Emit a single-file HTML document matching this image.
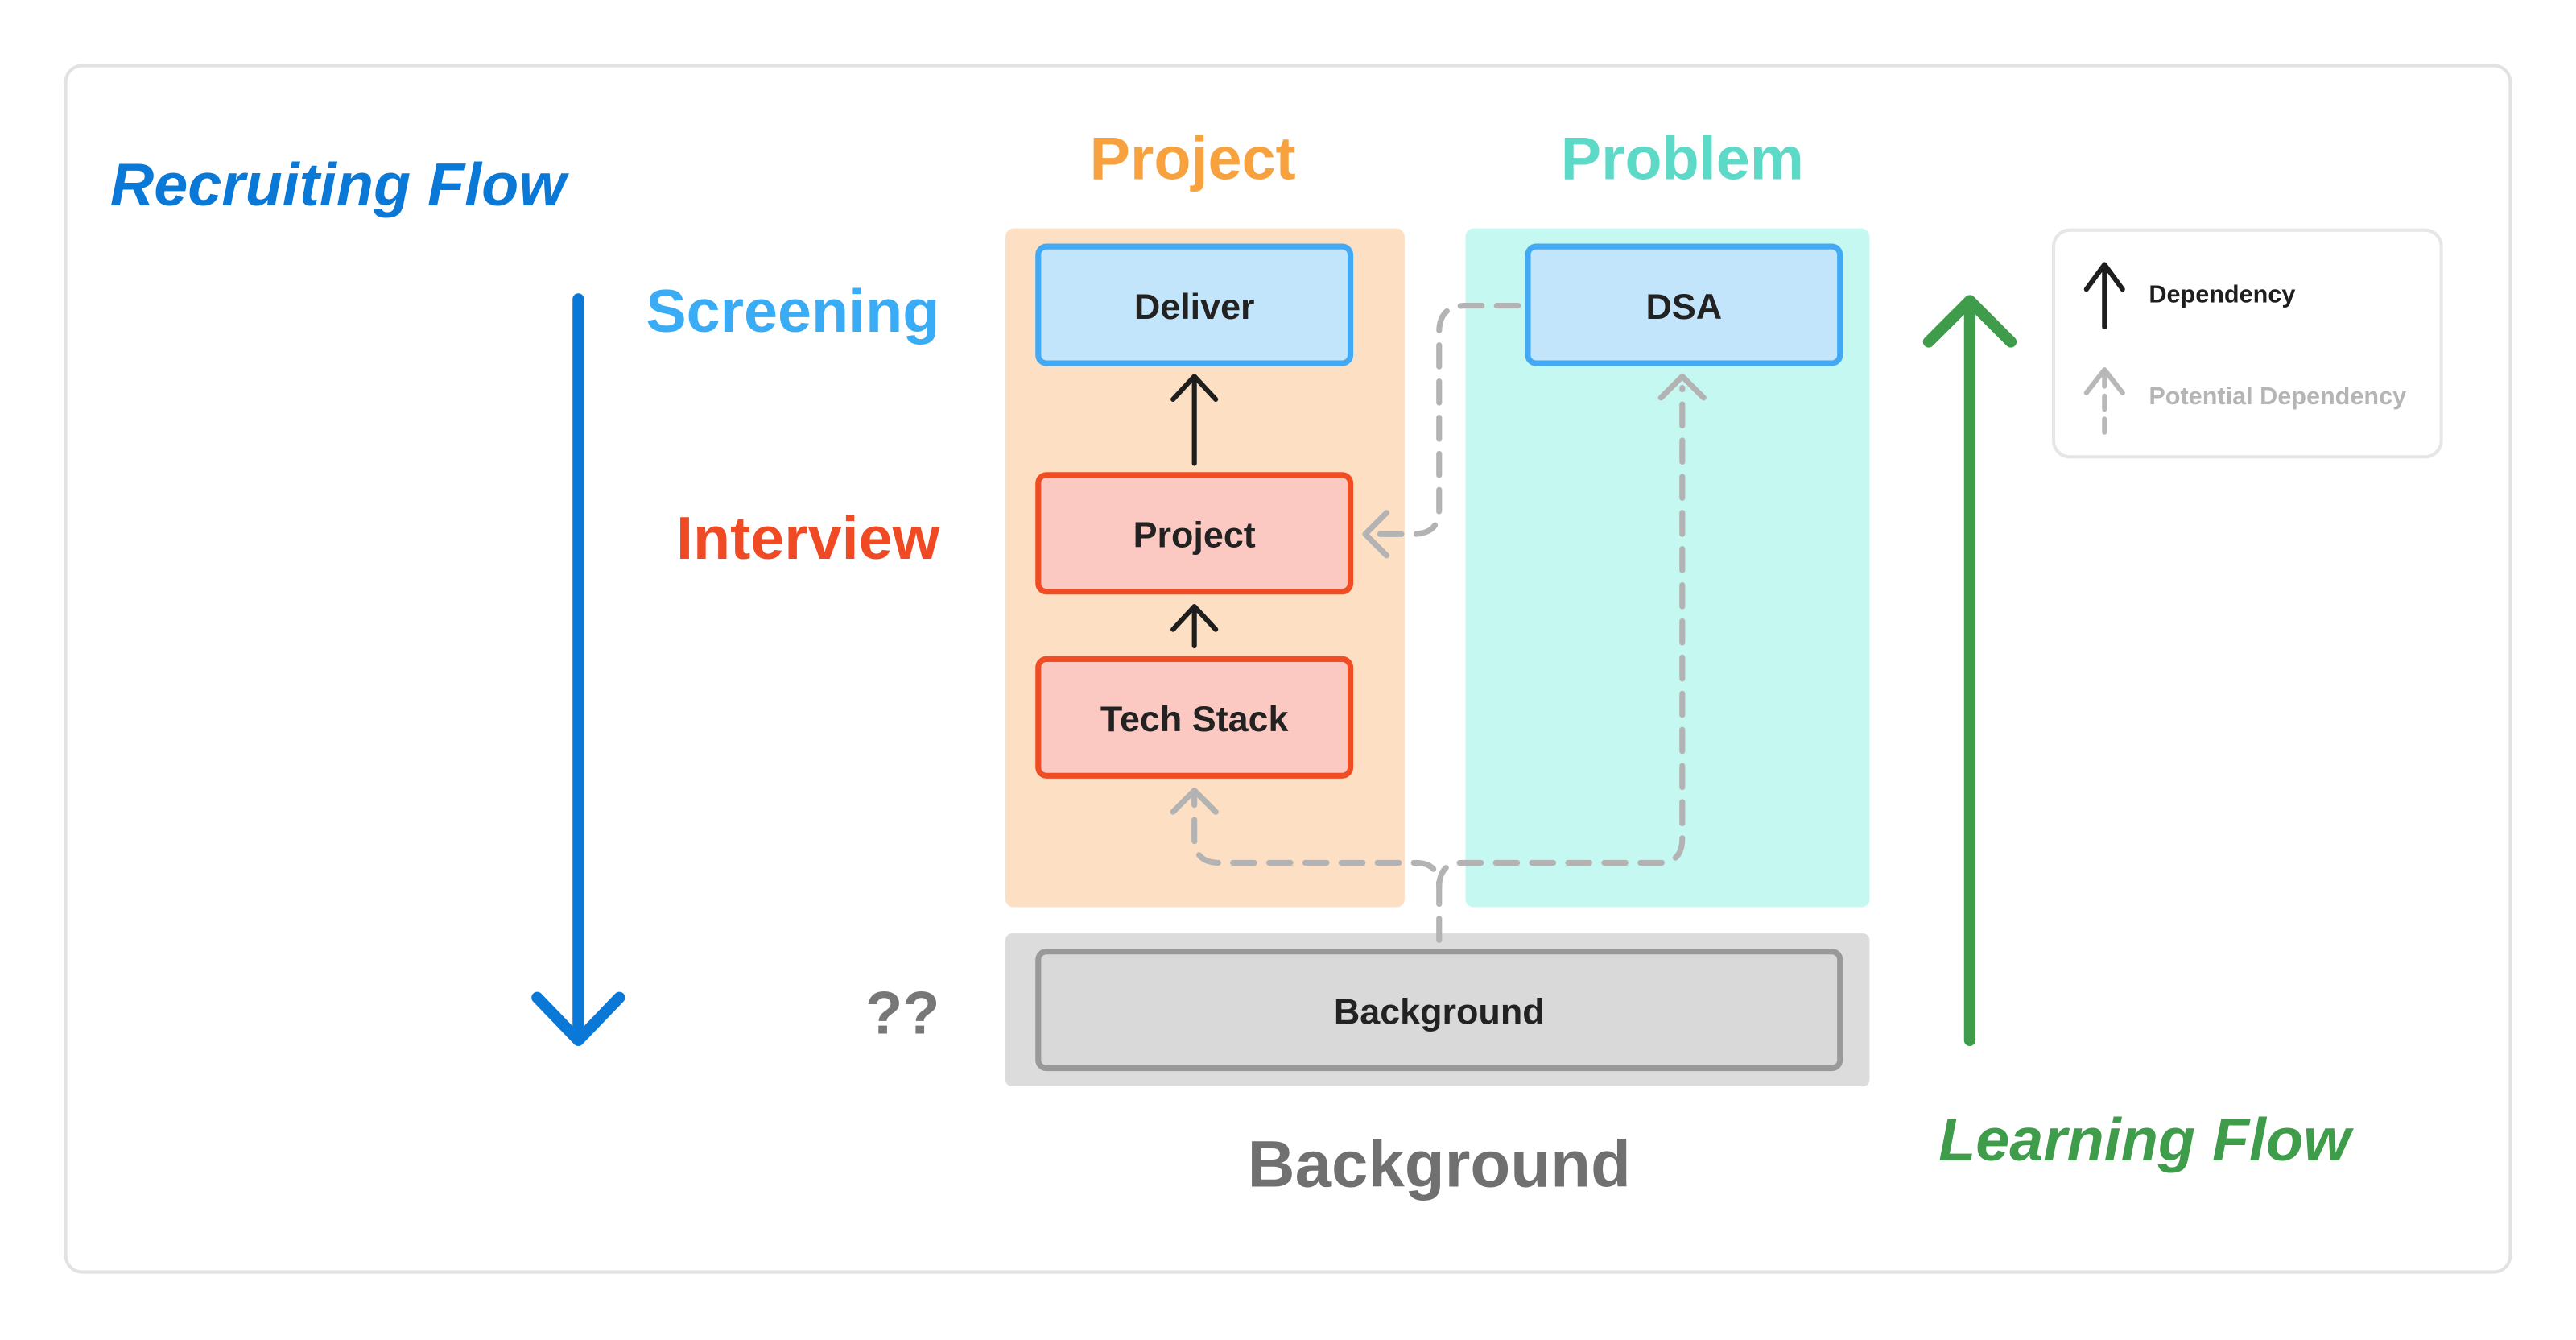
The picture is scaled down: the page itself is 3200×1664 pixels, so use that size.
<!DOCTYPE html>
<html><head><meta charset="utf-8"><style>
html,body{margin:0;padding:0;background:#fff;}
svg{display:block;}
text{font-family:"Liberation Sans",sans-serif;font-weight:bold;}
</style></head><body>
<svg width="3200" height="1664" viewBox="0 0 1568 815.36" xmlns="http://www.w3.org/2000/svg">
<rect x="40" y="40" width="1488" height="734" rx="10" fill="#fff" stroke="#e2e2e2" stroke-width="2"/>
<text x="67" y="125" font-size="37" font-style="italic" fill="#0a78d6">Recruiting Flow</text>
<g stroke="#0a78d6" stroke-width="7" stroke-linecap="round" stroke-linejoin="round" fill="none">
<line x1="352" y1="182" x2="352" y2="632"/><polyline points="327,607 352,633 377,607"/></g>
<text x="572" y="202" font-size="37" text-anchor="end" fill="#3aabf5">Screening</text>
<text x="572" y="340" font-size="37" text-anchor="end" fill="#f04a24">Interview</text>
<text x="572" y="629" font-size="37" text-anchor="end" fill="#777">??</text>
<text x="726" y="109" font-size="37" text-anchor="middle" fill="#f7a23e">Project</text>
<text x="1024" y="109" font-size="37" text-anchor="middle" fill="#5cd9c7">Problem</text>
<rect x="612" y="139" width="243" height="413" rx="5" fill="#fde0c4"/>
<rect x="892" y="139" width="246" height="413" rx="5" fill="#c6f8f2"/>
<rect x="612" y="568" width="526" height="93" rx="4" fill="#dcdcdc"/>
<g stroke-width="3.5" rx="5">
<rect x="632" y="150" width="190" height="71" rx="5" fill="#c3e5fc" stroke="#42aaf5"/>
<rect x="930" y="150" width="190" height="71" rx="5" fill="#c3e5fc" stroke="#42aaf5"/>
<rect x="632" y="289" width="190" height="71" rx="5" fill="#fcc9c2" stroke="#f04d24"/>
<rect x="632" y="401" width="190" height="71" rx="5" fill="#fcc9c2" stroke="#f04d24"/>
<rect x="632" y="579" width="488" height="71" rx="5" fill="#d9d9d9" stroke="#999"/>
</g>
<g font-size="22" fill="#222" text-anchor="middle">
<text x="727" y="194">Deliver</text>
<text x="1025" y="194">DSA</text>
<text x="727" y="333">Project</text>
<text x="727" y="445">Tech Stack</text>
<text x="876" y="623">Background</text>
</g>
<g stroke="#1e1e1e" stroke-width="3" stroke-linecap="round" stroke-linejoin="round" fill="none">
<line x1="727" y1="282" x2="727" y2="230"/><polyline points="714,243 727,229 740,243"/>
<line x1="727" y1="393" x2="727" y2="370"/><polyline points="714,383 727,369 740,383"/>
</g>
<g stroke="#b3b3b3" stroke-width="3.5" stroke-linecap="round" stroke-linejoin="round" fill="none">
<path d="M924,186 L892,186 Q876,186 876,202 L876,310 Q876,325 860,325 L834,325" stroke-dasharray="13 9"/>
<polyline points="844,312 831,325 844,338"/>
<path d="M876,572 L876,540 Q876,525 862,525 L742,525 Q727,525 727,510 L727,484" stroke-dasharray="13 9"/>
<path d="M876,540 Q876,525 890,525 L1010,525 Q1024,525 1024,510 L1024,236" stroke-dasharray="13 9"/>
<polyline points="714,494 727,481 740,494"/>
<polyline points="1011,242 1024,229 1037,242"/>
</g>
<text x="876" y="722" font-size="40" text-anchor="middle" fill="#707070">Background</text>
<g stroke="#3e9c4a" stroke-width="7" stroke-linecap="round" stroke-linejoin="round" fill="none">
<line x1="1199" y1="633" x2="1199" y2="184"/><polyline points="1174,208 1199,183 1224,208"/></g>
<text x="1180" y="706" font-size="37" font-style="italic" fill="#3e9c4a">Learning Flow</text>
<rect x="1250" y="140" width="236" height="138" rx="10" fill="#fff" stroke="#e6e6e6" stroke-width="2"/>
<g stroke-width="3" stroke-linecap="round" stroke-linejoin="round" fill="none">
<g stroke="#1e1e1e"><line x1="1281" y1="199" x2="1281" y2="162"/><polyline points="1270,176 1281,161 1292,176"/></g>
<g stroke="#b8b8b8"><line x1="1281" y1="263" x2="1281" y2="228" stroke-dasharray="8 6"/><polyline points="1270,239 1281,225 1292,239"/></g>
</g>
<text x="1308" y="184" font-size="15" fill="#1e1e1e">Dependency</text>
<text x="1308" y="246" font-size="15" fill="#b5b5b5">Potential Dependency</text>
</svg>
</body></html>
